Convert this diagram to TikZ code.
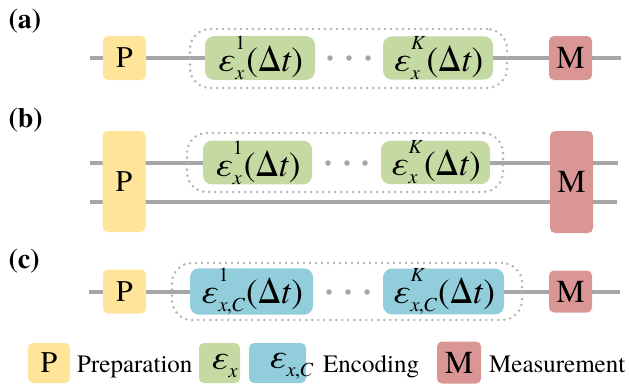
\documentclass[tikz,border=0pt]{standalone}
\usepackage{fontspec}
\setmainfont{texgyretermes}[Extension=.otf, UprightFont=*-regular, ItalicFont=*-italic, BoldFont=*-bold, BoldItalicFont=*-bolditalic]
\usetikzlibrary{backgrounds}
\definecolor{wiregray}{RGB}{166,166,166}
\definecolor{dotgray}{RGB}{180,180,180}
\definecolor{prepyel}{RGB}{255,229,153}
\definecolor{encgreen}{RGB}{197,217,163}
\definecolor{encblue}{RGB}{146,205,220}
\definecolor{measred}{RGB}{217,150,148}
\newcommand\epsscr[2]{%
  \setbox0\hbox{\fontsize{20}{20}\selectfont #1}%
  \setbox2\hbox{\fontsize{20}{20}\selectfont #2}%
  \ifdim\wd0>\wd2 \dimen0=\wd0 \else \dimen0=\wd2 \fi
  \rlap{\raisebox{22pt}{\box0}}\rlap{\raisebox{-8pt}{\box2}}\hspace{\dimen0}}
\newcommand\encf[2]{{\fontsize{35}{35}\selectfont\textit{ε}\kern0.5pt\epsscr{#1}{#2}\kern1pt(Δ\textit{t})}}
\newcommand\encleg[1]{{\fontsize{35}{35}\selectfont\textit{ε}\kern0.5pt\epsscr{}{#1}}}
\newcommand\xc{\textit{x}\kern-0.5pt,\kern-0.5pt\textit{C}}
\tikzset{
  wire/.style={draw=wiregray, line width=4pt},
  boxbase/.style={rounded corners=5pt, inner sep=0pt, text=black},
  pbox/.style={boxbase, fill=prepyel, minimum width=43pt, minimum height=44pt, font=\fontsize{30}{30}\selectfont},
  mbox/.style={boxbase, fill=measred, minimum width=43pt, minimum height=44pt, font=\fontsize{32}{32}\selectfont},
  gbox/.style={boxbase, rounded corners=9pt, fill=encgreen, minimum width=110pt, minimum height=43pt},
  bbox/.style={boxbase, rounded corners=9pt, fill=encblue, minimum width=122pt, minimum height=42pt},
  group/.style={draw=dotgray, line width=2.8pt, dash pattern=on 0pt off 6pt, line cap=round, rounded corners=20pt, inner sep=0pt},
  midot/.style={circle, fill=wiregray, inner sep=0pt, minimum size=5.5pt},
  plabel/.style={anchor=base west, font=\bfseries\fontsize{28}{28}\selectfont},
  legtext/.style={anchor=base west, inner sep=0pt, font=\fontsize{25}{25}\selectfont}
}
\begin{document}
\begin{tikzpicture}[x=1pt, y=-1pt]
\useasboundingbox (0,0) rectangle (629,384);
% labels
\node[plabel] (la) at (5,28) {(a)};
\node[plabel] (lb) at (5,127) {(b)};
\node[plabel] (lc) at (5,268) {(c)};

% ---------- row (a)
\node[group, minimum width=317pt, minimum height=59pt] (ga) at (348.5,58.5) {};
\node[pbox] (aP) at (124.5,58) {P};
\node[gbox] (aE1) at (260,58) {\encf{1}{\textit{x}}};
\node[gbox] (aEK) at (438,58) {\encf{\textit{K}}{\textit{x}}};
\node[mbox] (aM) at (570.5,58) {M};
\node[midot] (ad1) at (330,58) {};
\node[midot] (ad2) at (349,58) {};
\node[midot] (ad3) at (368,58) {};
\coordinate (as) at (90,58);
\coordinate (ae) at (621,58);

% ---------- row (b)
\node[group, minimum width=316pt, minimum height=59pt] (gb) at (345,162.5) {};
\node[pbox, minimum height=101pt] (bP) at (124,181.5) {P};
\node[gbox, minimum width=109pt, minimum height=41pt] (bE1) at (257.5,162.5) {\encf{1}{\textit{x}}};
\node[gbox, minimum width=109pt, minimum height=41pt] (bEK) at (435.5,162.5) {\encf{\textit{K}}{\textit{x}}};
\node[mbox, minimum height=102pt] (bM) at (571.5,182) {M};
\node[midot] (bd1) at (328,163) {};
\node[midot] (bd2) at (347,163) {};
\node[midot] (bd3) at (365,163) {};
\coordinate (bs1) at (90,162.5);
\coordinate (be1) at (618,162.5);
\coordinate (bs2) at (90,202);
\coordinate (be2) at (617,202);

% ---------- row (c)
\node[group, minimum width=350pt, minimum height=57pt] (gc) at (347,291.5) {};
\node[pbox] (cP) at (124.5,291.5) {P};
\node[bbox, minimum width=123pt] (cE1) at (251.5,291.5) {\encf{1}{\xc}};
\node[bbox, minimum width=121pt] (cEK) at (443.5,291.5) {\encf{\textit{K}}{\xc}};
\node[mbox, minimum height=42pt] (cM) at (570.5,291.5) {M};
\node[midot] (cd1) at (329,292) {};
\node[midot] (cd2) at (348,292) {};
\node[midot] (cd3) at (367,292) {};
\coordinate (cs) at (89,291.5);
\coordinate (ce) at (620,291.5);

% ---------- legend
\node[pbox, minimum width=42pt, minimum height=40pt] (lP) at (49,363) {P};
\node[legtext] (lPt) at (77,372) {Preparation};
\node[boxbase, fill=encgreen, minimum width=41pt, minimum height=40pt] (lG) at (219.5,363) {\encleg{\textit{x}}};
\node[boxbase, fill=encblue, minimum width=57pt, minimum height=40pt] (lB) at (277.5,363) {\encleg{\xc}};
\node[legtext] (lEt) at (323,372) {Encoding};
\node[mbox, minimum width=44pt, minimum height=42pt] (lM) at (459,362.5) {M};
\node[legtext] (lMt) at (489,372) {Measurement};

% ---------- wires
\begin{pgfonlayer}{background}
\draw[wire] (as) -- (aP);
\draw[wire] (aP) -- (aE1);
\draw[wire] (aEK) -- (aM);
\draw[wire] (aM) -- (ae);
\draw[wire] (bs1) -- (bs1 -| bE1.west);
\draw[wire] (bEK.east |- be1) -- (be1);
\draw[wire] (bs2) -- (be2);
\draw[wire] (cs) -- (cP);
\draw[wire] (cP) -- (cE1);
\draw[wire] (cEK) -- (cM);
\draw[wire] (cM) -- (ce);
\end{pgfonlayer}
\end{tikzpicture}
\end{document}
